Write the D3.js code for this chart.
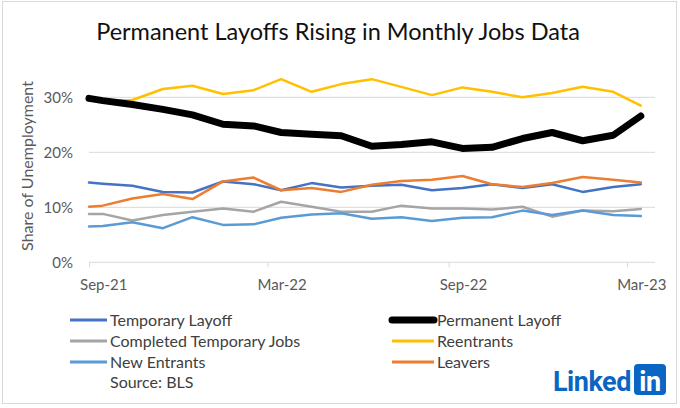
<!DOCTYPE html>
<html>
<head>
<meta charset="utf-8">
<script src="https://cdn.jsdelivr.net/npm/d3@7"></script>
<style>
  html, body { margin: 0; padding: 0; background: #fff; }
  svg { display: block; font-family: Lato, "Open Sans", sans-serif; }
</style>
</head>
<body>
<svg id="chart" width="680" height="408"></svg>
<script>
// ---- data ----
const dates = ["2021-09-01","2021-09-15","2021-10-15","2021-11-15","2021-12-15","2022-01-15","2022-02-15",
  "2022-03-15","2022-04-15","2022-05-15","2022-06-15","2022-07-15","2022-08-15","2022-09-15",
  "2022-10-15","2022-11-15","2022-12-15","2023-01-15","2023-02-15","2023-03-15"];
const temporaryLayoff = [14.5,14.3,13.9,12.8,12.7,14.7,14.2,13.1,14.4,13.6,13.9,14.1,13.1,13.5,14.2,13.5,14.2,12.8,13.7,14.2];
const permanentLayoff = [29.8,29.4,28.7,27.8,26.8,25.1,24.8,23.6,23.3,23.0,21.1,21.4,21.9,20.7,20.9,22.5,23.6,22.1,23.1,26.6];
const completedTemporaryJobs = [8.8,8.8,7.6,8.6,9.2,9.8,9.2,11.0,10.1,9.2,9.2,10.3,9.8,9.8,9.6,10.1,8.3,9.4,9.3,9.7];
const reentrants = [29.4,29.4,29.5,31.5,32.1,30.6,31.3,33.3,31.0,32.4,33.3,31.9,30.4,31.8,31.0,30.0,30.8,31.9,31.0,28.5];
const newEntrants = [6.5,6.6,7.3,6.2,8.2,6.8,6.9,8.1,8.7,8.9,7.9,8.2,7.5,8.1,8.2,9.4,8.6,9.4,8.6,8.4];
const leavers = [10.1,10.3,11.6,12.4,11.5,14.7,15.4,13.1,13.5,12.8,14.1,14.8,15.0,15.7,14.2,13.7,14.4,15.5,15.0,14.5];
const xTickDates = ["2021-09-01","2022-03-01","2022-09-01","2023-03-01"];
const xTickLabels = ["Sep-21","Mar-22","Sep-22","Mar-23"];
const yTicks = [0, 10, 20, 30];

const seriesNames = ["Temporary Layoff","Permanent Layoff","Completed Temporary Jobs","Reentrants","New Entrants","Leavers"];
const seriesValues = [temporaryLayoff, permanentLayoff, completedTemporaryJobs, reentrants, newEntrants, leavers];
const seriesColors = ["#4472C4","#000000","#A5A5A5","#FFC000","#5B9BD5","#ED7D31"];
const seriesWidths = [2.5, 7, 2.5, 2.5, 2.5, 2.5];

// ---- chart ----
const svg = d3.select("#chart");
const parse = d3.timeParse("%Y-%m-%d");
const xDates = dates.map(parse);

const x = d3.scaleTime()
  .domain([parse("2021-09-01"), parse("2023-03-01")])
  .range([89, 627]);
const y = d3.scaleLinear().domain([0, 30]).range([262.3, 97.3]);
const plotRight = 655;

// border
svg.append("rect").attr("x", 2.5).attr("y", 1.5).attr("width", 674).attr("height", 402)
  .attr("fill", "none").attr("stroke", "#d9d9d9").attr("stroke-width", 1);

// title
svg.append("text").attr("x", 338).attr("y", 40).attr("text-anchor", "middle")
  .attr("font-size", 23.5).attr("fill", "#111")
  .text("Permanent Layoffs Rising in Monthly Jobs Data");

// gridlines
svg.append("g").selectAll("line").data(yTicks).join("line")
  .attr("x1", 89).attr("x2", plotRight)
  .attr("y1", d => y(d)).attr("y2", d => y(d))
  .attr("stroke", "#d9d9d9").attr("stroke-width", 1);

// y axis labels
const yAxis = d3.axisLeft(y).tickValues(yTicks).tickFormat(d => d + "%").tickSize(0).tickPadding(0);
const gy = svg.append("g").attr("transform", "translate(73,0)").call(yAxis);
gy.select(".domain").remove();
gy.selectAll("text").attr("font-size", 15).attr("fill", "#595959")
  .attr("font-family", "Lato, sans-serif");

// x axis ticks
const xAxis = d3.axisBottom(x).tickValues(xTickDates.map(parse)).tickFormat("").tickSize(5);
const gx = svg.append("g").attr("transform", `translate(0,${y(0)})`).call(xAxis);
gx.select(".domain").remove();
gx.selectAll(".tick line").attr("stroke", "#d9d9d9");
// x labels centred on the month following each tick
svg.append("g").selectAll("text").data(xTickDates).join("text")
  .attr("x", (d) => x(d3.timeDay.offset(parse(d), 15)))
  .attr("y", 290).attr("text-anchor", "middle")
  .attr("font-size", 15).attr("fill", "#595959")
  .text((d, i) => xTickLabels[i]);

// y title
svg.append("text").attr("transform", "translate(33,166) rotate(-90)")
  .attr("text-anchor", "middle").attr("font-size", 16).attr("fill", "#595959")
  .text("Share of Unemployment");

// lines
const line = d3.line().x((d, i) => x(xDates[i])).y(d => y(d)).curve(d3.curveLinear);
const drawOrder = [0, 2, 4, 5, 3, 1];
svg.append("g").selectAll("path").data(drawOrder).join("path")
  .attr("d", k => line(seriesValues[k]))
  .attr("fill", "none")
  .attr("stroke", k => seriesColors[k])
  .attr("stroke-width", k => seriesWidths[k])
  .attr("stroke-linejoin", "round")
  .attr("stroke-linecap", "round");

// legend
const legendCols = [70, 392];
const legendRows = [320, 341, 362];
const lg = svg.append("g");
seriesNames.forEach((name, i) => {
  const cx = legendCols[i % 2];
  const ry = legendRows[Math.floor(i / 2)];
  const sw = i % 2 === 0 ? 37 : 42;
  lg.append("line").attr("x1", cx).attr("x2", cx + sw).attr("y1", ry).attr("y2", ry)
    .attr("stroke", seriesColors[i]).attr("stroke-width", i === 1 ? 7 : 3)
    .attr("stroke-linecap", i === 1 ? "round" : "butt");
  lg.append("text").attr("x", cx + sw + 3).attr("y", ry + 5.5)
    .attr("font-size", 16).attr("fill", "#404040").text(name);
});
lg.append("text").attr("x", 110).attr("y", 388).attr("font-size", 16).attr("fill", "#404040")
  .text("Source: BLS");

// LinkedIn logo
const logo = svg.append("g");
logo.append("text").attr("x", 553).attr("y", 391).attr("font-size", 27)
  .attr("font-weight", 700).attr("fill", "#0a66c2").attr("font-family", "Roboto, Lato, sans-serif")
  .attr("letter-spacing", -0.5).text("Linked");
logo.append("rect").attr("x", 634).attr("y", 364).attr("width", 32).attr("height", 31).attr("rx", 4)
  .attr("fill", "#0a66c2");
logo.append("text").attr("x", 650).attr("y", 391).attr("text-anchor", "middle").attr("font-size", 27)
  .attr("font-weight", 700).attr("fill", "#fff").attr("font-family", "Roboto, Lato, sans-serif")
  .attr("letter-spacing", -0.5).text("in");
</script>
</body>
</html>
